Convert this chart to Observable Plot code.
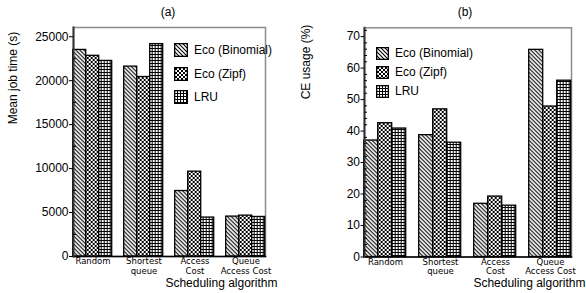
<!DOCTYPE html>
<html>
<head>
<meta charset="utf-8">
<script src="https://cdn.jsdelivr.net/npm/d3@7"></script>
<script src="https://cdn.jsdelivr.net/npm/@observablehq/plot@0.6"></script>
<style>
  html, body { margin: 0; padding: 0; background: white; }
  #chart { position: relative; width: 586px; height: 293px; overflow: hidden; font-family: 'Liberation Sans', Arial, sans-serif; color: black; }
  .panel { position: absolute; top: 0; }
  .title { position: absolute; font-size: 12px; line-height: 1; transform: translate(-50%, -50%); white-space: nowrap; }
  .ylab { position: absolute; font-size: 12px; line-height: 1; white-space: nowrap; transform: translate(-50%, -50%) rotate(-90deg); }
  .xlab { position: absolute; font-size: 12px; line-height: 1; white-space: nowrap; transform: translate(-100%, -50%); }
  .leg { position: absolute; font-size: 12px; white-space: nowrap; display: flex; align-items: center; }
  .leg svg { display: block; margin-right: 6px; }
</style>
</head>
<body>
<svg width="0" height="0" style="position:absolute">
  <defs>
    <pattern id="p-bin" patternUnits="userSpaceOnUse" width="4" height="4">
      <rect width="4" height="4" fill="white"/>
      <path d="M-1,-1 L5,5 M-1,3 L1,5 M3,-1 L5,1" stroke="black" stroke-width="1.1"/>
    </pattern>
    <pattern id="p-zipf" patternUnits="userSpaceOnUse" width="4" height="4">
      <rect width="4" height="4" fill="white"/>
      <path d="M-1,-1 L5,5 M-1,3 L1,5 M3,-1 L5,1 M-1,5 L5,-1 M-1,1 L1,-1 M3,5 L5,3" stroke="black" stroke-width="1"/>
    </pattern>
    <pattern id="p-lru" patternUnits="userSpaceOnUse" width="3" height="3">
      <rect width="3" height="3" fill="white"/>
      <path d="M0,0.5 H3 M0.5,0 V3" stroke="black" stroke-width="1"/>
    </pattern>
  </defs>
</svg>
<div id="chart"></div>
<script>
// ---- data ----
const categories = ["Random", "Shortest queue", "Access Cost", "Queue Access Cost"];
const categoryLabels = ["Random", "Shortest\nqueue", "Access\nCost", "Queue\nAccess Cost"];
const series = ["Eco (Binomial)", "Eco (Zipf)", "LRU"];

const jobTimeBinomial = [23500, 21600, 7450, 4540];
const jobTimeZipf     = [22830, 20420, 9650, 4650];
const jobTimeLRU      = [22250, 24160, 4430, 4500];

const ceBinomial = [37.0, 38.7, 16.9, 65.8];
const ceZipf     = [42.5, 46.9, 19.2, 47.8];
const ceLRU      = [40.8, 36.3, 16.3, 56.0];

const jobTimeTicks = [0, 5000, 10000, 15000, 20000, 25000];
const jobTimeMinorTicks = [2500, 7500, 12500, 17500, 22500];
const ceTicks = [0, 10, 20, 30, 40, 50, 60, 70];
const ceMinorTicks = [2, 4, 6, 8, 12, 14, 16, 18, 22, 24, 26, 28, 32, 34, 36, 38, 42, 44, 46, 48, 52, 54, 56, 58, 62, 64, 66, 68, 72];

// ---- styles ----
const patternOf = {"Eco (Binomial)": "url(#p-bin)", "Eco (Zipf)": "url(#p-zipf)", "LRU": "url(#p-lru)"};
const font = "'Liberation Sans', Arial, sans-serif";

function table(bin, zipf, lru) {
  const vals = [bin, zipf, lru];
  return categories.flatMap((c, i) => series.map((s, j) => ({category: c, series: s, value: vals[j][i]})));
}

function panel({data, yMax, ticks, minor, marginLeft, marginRight, marginTop, marginBottom, tickSize, pad}) {
  return Plot.plot({
    width: 293, height: 293,
    marginLeft, marginRight, marginTop, marginBottom,
    style: {fontFamily: font, background: "transparent", overflow: "visible"},
    fx: {domain: categories, paddingInner: pad, paddingOuter: pad, label: null},
    x: {domain: series, padding: 0, axis: null},
    y: {domain: [0, yMax], label: null},
    color: {type: "identity"},
    marks: [
      Plot.frame({stroke: "#8c8c8c", strokeWidth: 1.5, facet: "super"}),
      Plot.barY(data, {fx: "category", x: "series", y: "value", fill: d => patternOf[d.series], stroke: "black", strokeWidth: 1.3}),
      Plot.frame({anchor: "bottom", stroke: "black", strokeWidth: 1.6, facet: "super"}),
      Plot.frame({anchor: "left", stroke: "#333", strokeWidth: 2, facet: "super"}),
      Plot.axisY({ticks, tickSize, tickPadding: 1, fontSize: 12, label: null, tickFormat: d => String(d)}),
      Plot.axisY({ticks: minor, tickSize: -3, tickFormat: () => "", label: null}),
      Plot.axisFx({anchor: "bottom", tickSize: 0, tickPadding: 1, fontSize: 8.5, fontFamily: "'DejaVu Sans', sans-serif",
        label: null, lineHeight: 1.12, tickFormat: d => categoryLabels[categories.indexOf(d)]})
    ]
  });
}

const chart = document.getElementById("chart");

const pa = panel({
  data: table(jobTimeBinomial, jobTimeZipf, jobTimeLRU),
  yMax: 26050, ticks: jobTimeTicks, minor: jobTimeMinorTicks,
  marginLeft: 59.3, marginRight: 14.7, marginTop: 27, marginBottom: 37, tickSize: 4, pad: 0.226
});
pa.classList.add("panel"); pa.style.left = "0px";
chart.appendChild(pa);

const pb = panel({
  data: table(ceBinomial, ceZipf, ceLRU),
  yMax: 72.8, ticks: ceTicks, minor: ceMinorTicks,
  marginLeft: 56.3, marginRight: 0.5, marginTop: 27.3, marginBottom: 36.5, tickSize: 3.5, pad: 0.23
});
pb.classList.add("panel"); pb.style.left = "293px";
chart.appendChild(pb);

function addText(cls, text, x, y) {
  const d = document.createElement("div");
  d.className = cls; d.textContent = text;
  d.style.left = x + "px"; d.style.top = y + "px";
  chart.appendChild(d);
}
addText("title", "(a)", 168, 12);
addText("title", "(b)", 465, 12);
addText("ylab", "Mean job time (s)", 13, 78);
addText("ylab", "CE usage (%)", 305.5, 62);
addText("xlab", "Scheduling algorithm", 277.5, 282.5);
addText("xlab", "Scheduling algorithm", 585.5, 282.5);

function addLegend(x, y0, step, size) {
  series.forEach((s, i) => {
    const d = document.createElement("div");
    d.className = "leg";
    d.style.left = x + "px";
    d.style.top = (y0 + i * step - size / 2) + "px";
    d.style.height = size + "px";
    d.innerHTML = `<svg width="${size}" height="${size}"><rect x="0.65" y="0.65" width="${size - 1.3}" height="${size - 1.3}" fill="${patternOf[s]}" stroke="black" stroke-width="1.3"/></svg>`;
    const t = document.createElement("span");
    t.textContent = s;
    d.appendChild(t);
    chart.appendChild(d);
  });
}
addLegend(174, 50, 23.7, 14);
addLegend(376, 53, 19.2, 13);
</script>
</body>
</html>
